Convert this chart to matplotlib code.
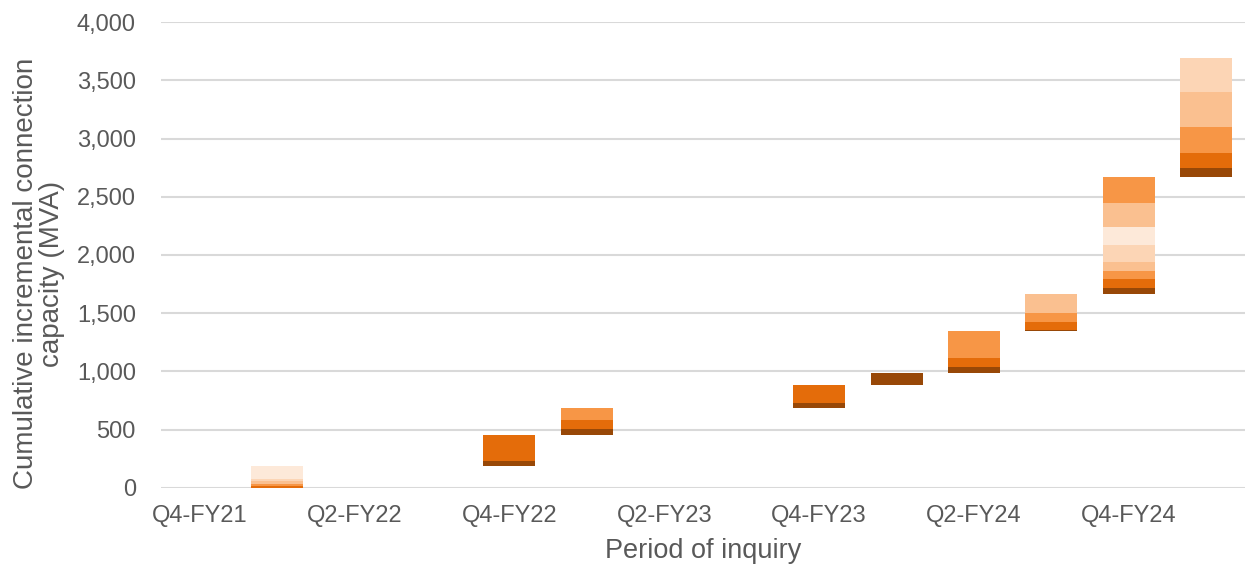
import numpy as np
import matplotlib
matplotlib.use("Agg")
import matplotlib.pyplot as plt
from matplotlib.ticker import FuncFormatter

plt.rcParams['font.family'] = ['Liberation Sans', 'DejaVu Sans']

# periods of inquiry (one slot per quarter)
periods = ["Q4-FY21", "Q1-FY22", "Q2-FY22", "Q3-FY22", "Q4-FY22", "Q1-FY23", "Q2-FY23",
           "Q3-FY23", "Q4-FY23", "Q1-FY24", "Q2-FY24", "Q3-FY24", "Q4-FY24", "Q1-FY25"]

# invisible base of each floating bar (cumulative capacity before the quarter), MVA
start = [0, 0, 0, 0, 190, 455, 0, 0, 684, 884, 985, 1348, 1665, 2667]

# incremental capacity segments, stacked from the bottom, MVA
seg1 = [0, 0, 0, 0, 44, 54, 0, 0, 43, 101, 54, 8, 54, 80]
seg2 = [0, 14, 0, 0, 221, 77, 0, 0, 157, 0, 77, 69, 72, 131]
seg3 = [0, 23, 0, 0, 0, 98, 0, 0, 0, 0, 232, 75, 74, 218]
seg4 = [0, 20, 0, 0, 0, 0, 0, 0, 0, 0, 0, 165, 78, 301]
seg5 = [0, 23, 0, 0, 0, 0, 0, 0, 0, 0, 0, 0, 143, 297]
seg6 = [0, 110, 0, 0, 0, 0, 0, 0, 0, 0, 0, 0, 152, 0]
seg7 = [0, 0, 0, 0, 0, 0, 0, 0, 0, 0, 0, 0, 208, 0]
seg8 = [0, 0, 0, 0, 0, 0, 0, 0, 0, 0, 0, 0, 221, 0]

segments = [seg1, seg2, seg3, seg4, seg5, seg6, seg7, seg8]
colors = ["#984807", "#E46C0A", "#F79646", "#FAC090",
          "#FCD5B5", "#FDE9D9", "#FAC090", "#F79646"]

fig = plt.figure(figsize=(12.45, 5.72), dpi=100)
ax = fig.add_axes([0.1293, 0.1469, 0.8707, 0.8146])

x = np.arange(len(periods))
bottom = np.array(start, dtype=float)
for vals, c in zip(segments, colors):
    vals = np.array(vals, dtype=float)
    ax.bar(x, vals, bottom=bottom, width=0.67, color=c, linewidth=0, zorder=3)
    bottom = bottom + vals

ax.set_xlim(-0.5, len(periods) - 0.5)
ax.set_ylim(0, 4000)
ax.set_yticks(np.arange(0, 4001, 500))
ax.yaxis.set_major_formatter(FuncFormatter(lambda v, p: f"{int(v):,}"))
ax.set_xticks(x[::2])
ax.set_xticklabels(periods[::2])

ax.grid(axis='y', color='#D9D9D9', linewidth=1.5, zorder=0)
ax.set_axisbelow(True)
for s in ax.spines.values():
    s.set_visible(False)
ax.tick_params(axis='both', length=0, labelsize=17, colors='#595959')
ax.tick_params(axis='y', pad=18)
ax.tick_params(axis='x', pad=12)

ax.set_xlabel("Period of inquiry", fontsize=19.5, color='#595959', labelpad=8)
ax.set_ylabel("Cumulative incremental connection\ncapacity (MVA)", fontsize=20,
              color='#595959', linespacing=1.0)
ax.yaxis.set_label_coords(-0.089, 0.46)

fig.savefig("out.png", dpi=100)
